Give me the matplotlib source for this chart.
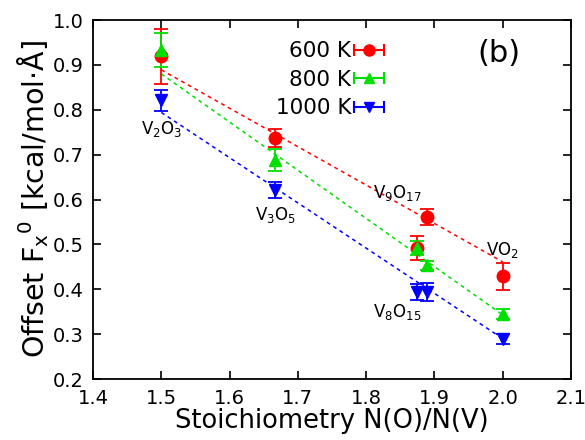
import matplotlib
matplotlib.use("Agg")
import matplotlib.pyplot as plt
from matplotlib.lines import Line2D
from matplotlib.legend_handler import HandlerLine2D, HandlerTuple
import numpy as np

# Stoichiometry N(O)/N(V)
x_vals = [1.5, 5/3, 15/8, 17/9, 2.0]

y_600 = [0.919, 0.737, 0.492, 0.561, 0.429]
e_600 = [0.062, 0.021, 0.027, 0.018, 0.030]
y_800 = [0.933, 0.688, 0.492, 0.454, 0.345]
e_800 = [0.038, 0.025, 0.015, 0.010, 0.012]
y_1000 = [0.821, 0.621, 0.394, 0.394, 0.289]
e_1000 = [0.023, 0.018, 0.018, 0.020, 0.012]

fit_x = [1.5, 2.0]
fit_600 = [0.889, 0.461]
fit_800 = [0.880, 0.343]
fit_1000 = [0.794, 0.290]

labels = ["600 K", "800 K", "1000 K"]
phase_labels = [r"V$_2$O$_3$", r"V$_3$O$_5$", r"V$_9$O$_{17}$", r"VO$_2$", r"V$_8$O$_{15}$"]
phase_pos = [(1.5, 0.758), (1.667, 0.565), (1.845, 0.614), (2.0, 0.487), (1.845, 0.35)]

xticks = [1.4, 1.5, 1.6, 1.7, 1.8, 1.9, 2.0, 2.1]
yticks = [0.2, 0.3, 0.4, 0.5, 0.6, 0.7, 0.8, 0.9, 1.0]

fig = plt.figure(figsize=(5.85, 4.4), dpi=100)
ax = fig.add_axes([93/585, 1 - 379/440, (571-93)/585, (379-20)/440])

series = [(y_600, e_600, fit_600, "#ff0000", "o", 9),
          (y_800, e_800, fit_800, "#00e000", "^", 8),
          (y_1000, e_1000, fit_1000, "#0000ff", "v", 8)]
handles = []
hmap = {}
for (y, e, f, c, m, ms), lab in zip(series, labels):
    ax.plot(fit_x, f, linestyle=(0, (2.5, 2.5)), color=c, lw=1.1, zorder=1)
    ax.errorbar(x_vals, y, yerr=e, fmt=m, color=c, ms=ms, capsize=5,
                elinewidth=1.3, capthick=1.3, zorder=3)
    caps = Line2D([], [], color=c, lw=1.5, marker="|", ms=9, mew=1.5)
    mark = Line2D([], [], color=c, lw=0, marker=m, ms=ms - 1)
    hmap[caps] = HandlerLine2D(numpoints=2, marker_pad=0.0)
    hmap[mark] = HandlerLine2D(numpoints=1)
    handles.append((caps, mark))
hmap[tuple] = HandlerTuple(ndivide=1, pad=0)

for t, (px, py) in zip(phase_labels, phase_pos):
    ax.text(px, py, t, ha="center", va="center", fontsize=12)

ax.text(1.995, 0.925, "(b)", fontsize=22, ha="center", va="center")

ax.set_xlim(1.4, 2.1)
ax.set_ylim(0.2, 1.0)
ax.set_xticks(xticks)
ax.set_yticks(yticks)
ax.set_xticklabels([f"{v:.1f}" for v in xticks])
ax.set_yticklabels([f"{v:.1f}" for v in yticks])
ax.tick_params(direction="in", length=6, width=1.2, labelsize=14, top=True, right=True, pad=7)
for s in ax.spines.values():
    s.set_linewidth(1.3)
ax.set_xlabel("Stoichiometry N(O)/N(V)", fontsize=18.5, labelpad=0)
ax.set_ylabel(r"Offset F$_{\mathsf{x}}$$^{\mathsf{0}}$ [kcal/mol$\cdot$Å]", fontsize=20.5, labelpad=1)

ax.legend(handles, labels, handler_map=hmap,
          loc="upper left", bbox_to_anchor=(0.364, 0.965), frameon=False, markerfirst=False,
          fontsize=15.5, handlelength=1.4, handletextpad=0.15, labelspacing=0.4,
          borderaxespad=0)

fig.savefig("out.png", dpi=100)
